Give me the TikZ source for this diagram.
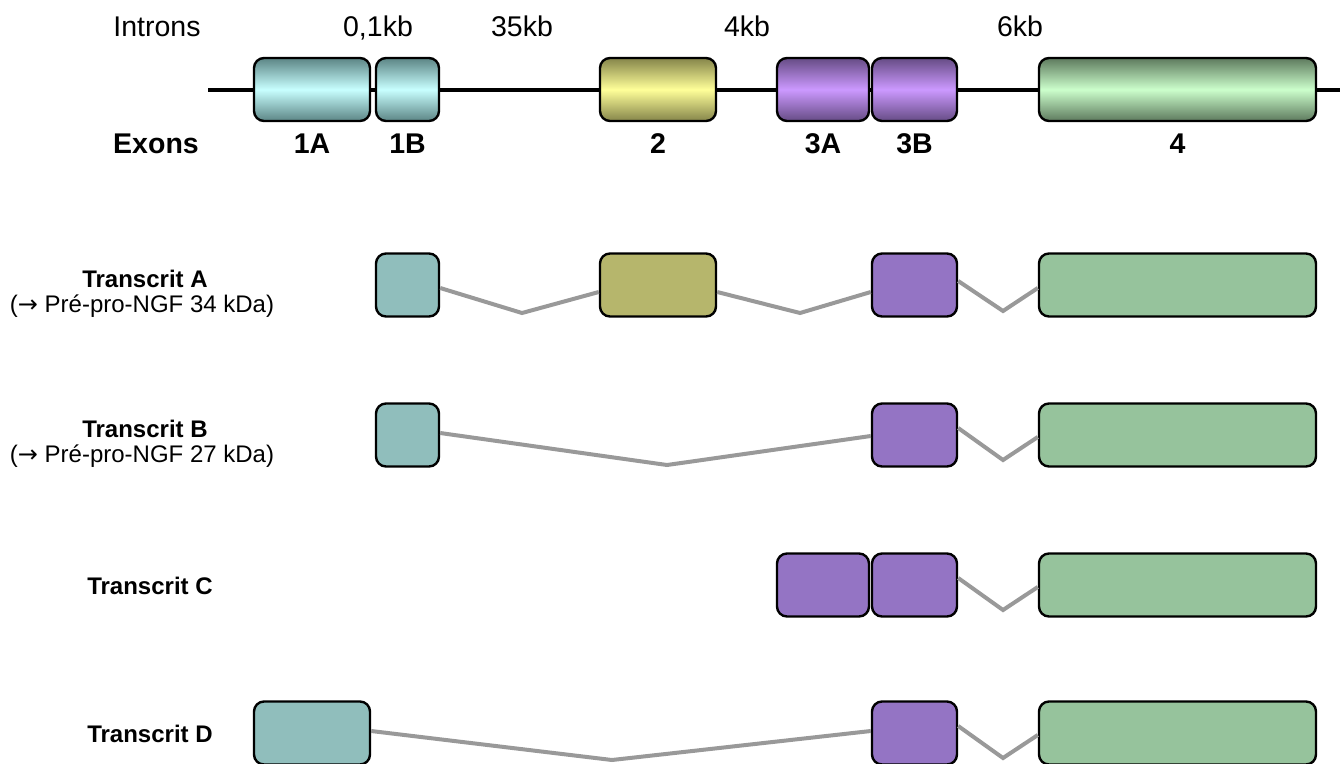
\documentclass[tikz,border=0pt]{standalone}
\usepackage{fontspec}
\setmainfont{Liberation Sans}
\newfontfamily\symfont{DejaVu Sans}
\usetikzlibrary{calc}

% exon colours
\definecolor{cyanL}{HTML}{C8FFFF}\definecolor{cyanD}{HTML}{5C8585}
\definecolor{yelL}{HTML}{FFFF99}\definecolor{yelD}{HTML}{85854A}
\definecolor{purL}{HTML}{CC99FF}\definecolor{purD}{HTML}{664C85}
\definecolor{grnL}{HTML}{CCFFCC}\definecolor{grnD}{HTML}{5E7A5E}
\definecolor{cyanF}{HTML}{90BEBC}
\definecolor{yelF}{HTML}{B6B66C}
\definecolor{purF}{HTML}{9474C4}
\definecolor{grnF}{HTML}{96C39C}
\definecolor{splice}{HTML}{999999}

\tikzset{
  exon/.style={draw=black, line width=2.4pt, rounded corners=10pt, inner sep=0pt, minimum height=63pt},
  gcyan/.style={exon, top color=cyanD, bottom color=cyanD, middle color=cyanL},
  gyel/.style={exon, top color=yelD, bottom color=yelD, middle color=yelL},
  gpur/.style={exon, top color=purD, bottom color=purD, middle color=purL},
  ggrn/.style={exon, top color=grnD, bottom color=grnD, middle color=grnL},
  fcyan/.style={exon, fill=cyanF},
  fyel/.style={exon, fill=yelF},
  fpur/.style={exon, fill=purF},
  fgrn/.style={exon, fill=grnF},
  genome/.style={line width=4pt, black},
  junction/.style={line width=4pt, splice},
  biglbl/.style={inner sep=0pt, anchor=base, font=\fontsize{28.5}{34}\selectfont},
  bigbold/.style={biglbl, font=\fontsize{28.5}{34}\selectfont\bfseries},
  trlbl/.style={inner sep=0pt, anchor=base, font=\fontsize{24}{28}\selectfont\bfseries},
  sublbl/.style={inner sep=0pt, anchor=base, font=\fontsize{24}{28}\selectfont},
}

\begin{document}
\begin{tikzpicture}[x=1pt, y=-1pt]
\useasboundingbox (0,0) rectangle (1340,763);

% ---- gene structure ----
\coordinate (gs) at (208,90);
\coordinate (ge) at (1340,90);
\draw[genome] (gs) -- (ge);

\node[gcyan, minimum width=116pt] (e1A) at (312,89.5) {};
\node[gcyan, minimum width=63pt]  (e1B) at (407.5,89.5) {};
\node[gyel,  minimum width=116pt] (e2)  at (658,89.5) {};
\node[gpur,  minimum width=92pt]  (e3A) at (823,89.5) {};
\node[gpur,  minimum width=85pt]  (e3B) at (914.5,89.5) {};
\node[ggrn,  minimum width=277pt] (e4)  at (1177.5,89.5) {};

% intron sizes
\node[biglbl] (tIntrons) at (157,36) {Introns};
\node[biglbl] (i1) at (378,36) {0,1kb};
\node[biglbl] (i2) at (522,36) {35kb};
\node[biglbl] (i3) at (747,36) {4kb};
\node[biglbl] (i4) at (1020,36) {6kb};

% exon names
\node[bigbold] (tExons) at (156,153) {Exons};
\node[bigbold] (n1A) at (312,153) {1A};
\node[bigbold] (n1B) at (407.5,153) {1B};
\node[bigbold] (n2)  at (658,153) {2};
\node[bigbold] (n3A) at (823,153) {3A};
\node[bigbold] (n3B) at (914.5,153) {3B};
\node[bigbold] (n4)  at (1177.5,153) {4};

% ---- Transcrit A ----
\node[trlbl]  (lA)  at (145,287) {Transcrit A};
\node[sublbl] (sA)  at (142,312) {({\symfont→} Pré-pro-NGF 34 kDa)};
\node[fcyan, minimum width=63pt]  (a1B) at (407.5,285) {};
\node[fyel,  minimum width=116pt] (a2)  at (658,285) {};
\node[fpur,  minimum width=85pt]  (a3B) at (914.5,285) {};
\node[fgrn,  minimum width=277pt] (a4)  at (1177.5,285) {};
\coordinate (av1) at (522,313);
\coordinate (av2) at (800,313);
\coordinate (av3) at (1003,311);
\draw[junction] ([yshift=-3pt]a1B.east) -- (av1) -- ([yshift=-7pt]a2.west);
\draw[junction] ([yshift=-7pt]a2.east) -- (av2) -- ([yshift=-7pt]a3B.west);
\draw[junction] ([yshift=4pt]a3B.east) -- (av3) -- ([yshift=-3pt]a4.west);

% ---- Transcrit B ----
\node[trlbl]  (lB)  at (145,437) {Transcrit B};
\node[sublbl] (sB)  at (142,462) {({\symfont→} Pré-pro-NGF 27 kDa)};
\node[fcyan, minimum width=63pt]  (b1B) at (407.5,435) {};
\node[fpur,  minimum width=85pt]  (b3B) at (914.5,435) {};
\node[fgrn,  minimum width=277pt] (b4)  at (1177.5,435) {};
\coordinate (bv1) at (667,465);
\coordinate (bv2) at (1003,460);
\draw[junction] ([yshift=2pt]b1B.east) -- (bv1) -- ([yshift=-1pt]b3B.west);
\draw[junction] ([yshift=7pt]b3B.east) -- (bv2) -- ([yshift=-2pt]b4.west);

% ---- Transcrit C ----
\node[trlbl] (lC) at (150,594) {Transcrit C};
\node[fpur, minimum width=92pt]  (c3A) at (823,585) {};
\node[fpur, minimum width=85pt]  (c3B) at (914.5,585) {};
\node[fgrn, minimum width=277pt] (c4)  at (1177.5,585) {};
\coordinate (cv) at (1003,610);
\draw[junction] ([yshift=7pt]c3B.east) -- (cv) -- ([yshift=-2pt]c4.west);

% ---- Transcrit D ----
\node[trlbl] (lD) at (150,742) {Transcrit D};
\node[fcyan, minimum width=116pt] (d1A) at (312,733) {};
\node[fpur,  minimum width=85pt]  (d3B) at (914.5,733) {};
\node[fgrn,  minimum width=277pt] (d4)  at (1177.5,733) {};
\coordinate (dv1) at (612,760);
\coordinate (dv2) at (1003,758);
\draw[junction] ([yshift=2pt]d1A.east) -- (dv1) -- ([yshift=2pt]d3B.west);
\draw[junction] ([yshift=7pt]d3B.east) -- (dv2) -- ([yshift=-2pt]d4.west);
\end{tikzpicture}
\end{document}
